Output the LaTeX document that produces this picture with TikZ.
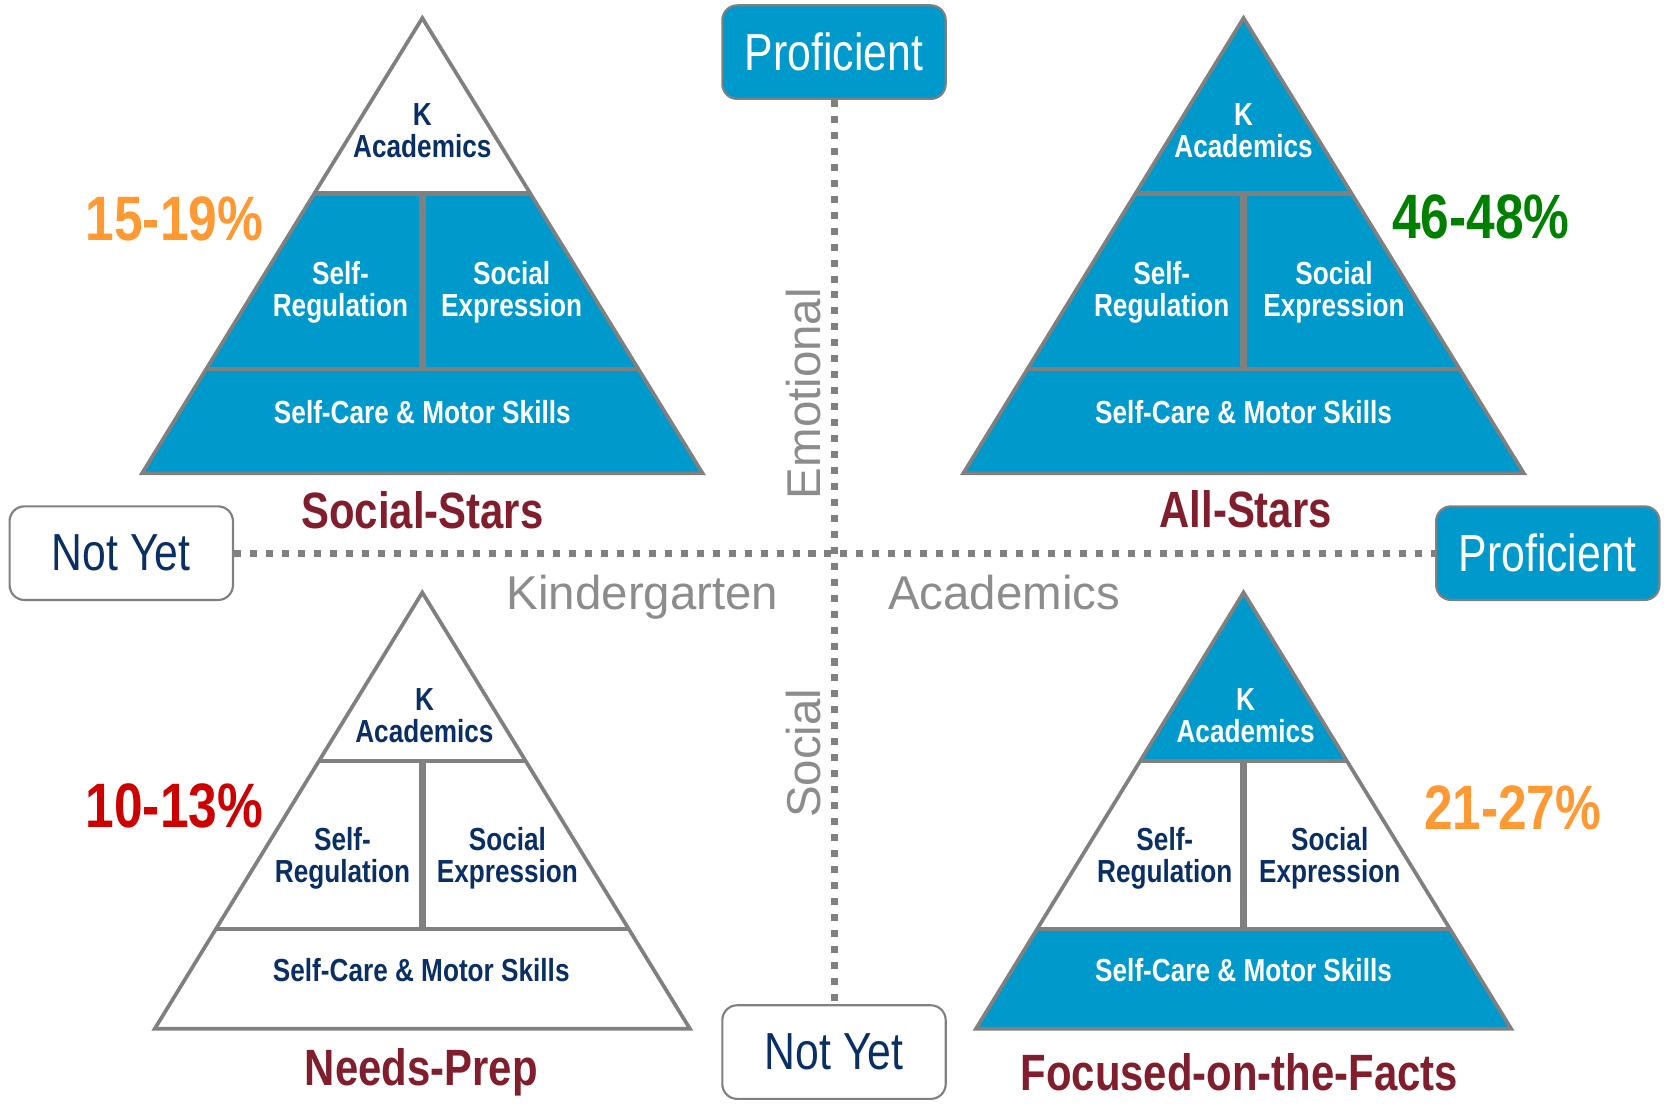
\documentclass[tikz,border=0pt]{standalone}
\usepackage{fontspec}
\setmainfont{Liberation Sans}
\newfontfamily\narrowfont[FakeStretch=0.82]{Liberation Sans}
\definecolor{kblue}{HTML}{0099CC}
\definecolor{navy}{HTML}{0A2F64}
\definecolor{darkred}{HTML}{801E2D}
\definecolor{korange}{HTML}{FF9933}
\definecolor{kgreen}{HTML}{008000}
\definecolor{kred}{HTML}{CC0000}
\definecolor{linegray}{HTML}{808080}
\definecolor{axgray}{HTML}{8C8C8C}
\newcommand\tierfont{\narrowfont\bfseries\fontsize{30}{30}\selectfont}
\newcommand\pctfont{\narrowfont\bfseries\fontsize{59}{59}\selectfont}
\newcommand\grpfont{\narrowfont\bfseries\fontsize{48}{48}\selectfont}
\newcommand\boxfont{\narrowfont\fontsize{49}{49}\selectfont}
\newcommand\axfont{\fontsize{44.6}{44.6}\selectfont}
% pyramid: #1 cx, #2 apex y, #3 base y, #4 half width, #5 top fill, #6 mid fill, #7 bottom fill
\newcommand\pyr[7]{%
  \pgfmathsetmacro\pyH{#3-#2}%
  \pgfmathsetmacro\pyYa{#2+0.3855*\pyH}%
  \pgfmathsetmacro\pyYb{#2+0.771*\pyH}%
  \pgfmathsetmacro\pyWa{0.3855*#4}%
  \pgfmathsetmacro\pyWb{0.771*#4}%
  \fill[#5] (#1,#2) -- (#1+\pyWa,\pyYa) -- (#1-\pyWa,\pyYa) -- cycle;
  \fill[#6] (#1-\pyWa,\pyYa) -- (#1+\pyWa,\pyYa) -- (#1+\pyWb,\pyYb) -- (#1-\pyWb,\pyYb) -- cycle;
  \fill[#7] (#1-\pyWb,\pyYb) -- (#1+\pyWb,\pyYb) -- (#1+#4,#3) -- (#1-#4,#3) -- cycle;
  \draw[tierline] (#1-\pyWa,\pyYa) -- (#1+\pyWa,\pyYa);
  \draw[tierline] (#1-\pyWb,\pyYb) -- (#1+\pyWb,\pyYb);
  \draw[divline] (#1,\pyYa) -- (#1,\pyYb);
  \draw[outline] (#1,#2) -- (#1+#4,#3) -- (#1-#4,#3) -- cycle;
}
\tikzset{
  outline/.style={draw=linegray, line width=3.5pt, line join=miter},
  tierline/.style={draw=linegray, line width=4pt},
  divline/.style={draw=linegray, line width=6pt},
  axisline/.style={draw=linegray, line width=6.6pt, dash pattern=on 6.6pt off 8.4pt},
  fb/.style={fill=kblue},
  fw/.style={fill=white},
  tierb/.style={font=\tierfont, text=white, align=center, inner sep=0pt},
  tierw/.style={font=\tierfont, text=navy, align=center, inner sep=0pt},
  pct/.style={font=\pctfont, anchor=base, inner sep=0pt},
  grouplabel/.style={font=\grpfont, text=darkred, anchor=base, inner sep=0pt},
  axlabel/.style={font=\axfont, text=axgray, anchor=base, inner sep=0pt},
  boxb/.style={draw=linegray, line width=2pt, rounded corners=14pt, fill=kblue, text=white,
    minimum width=210pt, minimum height=88pt, inner sep=0pt, font=\boxfont},
  boxw/.style={draw=linegray, line width=2pt, rounded corners=14pt, fill=white, text=navy,
    minimum width=210pt, minimum height=88pt, inner sep=0pt, font=\boxfont},
}
\begin{document}
\begin{tikzpicture}[x=1pt,y=-1pt]
\useasboundingbox (0,0) rectangle (1568,1040);
\fill[white] (0,0) rectangle (1568,1040);

% axis boxes
\node[boxb] (ptop) at (784,49) {Proficient};
\node[boxb] (pright) at (1455,520) {Proficient};
\node[boxw] (nleft) at (114,520) {Not Yet};
\node[boxw] (nbot) at (784,989) {Not Yet};

% axes
\draw[axisline] (ptop.south) -- (nbot.north);
\draw[axisline] (nleft.east) -- (pright.west);

% axis labels
\node[axlabel, rotate=90] (lemo) at (771,370) {Emotional};
\node[axlabel, rotate=90] (lsoc) at (771,708) {Social};
\node[axlabel] (lkin) at (604,573) {Kindergarten};
\node[axlabel] (laca) at (944,573) {Academics};

% top-left pyramid: Social-Stars
\pyr{397}{17}{445}{263.5}{fw}{fb}{fb}
\node[tierw, anchor=north] (tlA) at (397,97.5) {K\\Academics};
\node[tierb, anchor=north] (tlS) at (320,245.5) {Self-\\Regulation};
\node[tierb, anchor=north] (tlE) at (481,245.5) {Social\\Expression};
\node[tierb, anchor=base] (tlM) at (397,398) {Self-Care \& Motor Skills};
\node[pct, text=korange] (tlP) at (164,226) {15-19\%};
\node[grouplabel] (tlG) at (397,497) {Social-Stars};

% top-right pyramid: All-Stars
\pyr{1169}{17}{445}{263.5}{fb}{fb}{fb}
\node[tierb, anchor=north] (trA) at (1169,97.5) {K\\Academics};
\node[tierb, anchor=north] (trS) at (1092,245.5) {Self-\\Regulation};
\node[tierb, anchor=north] (trE) at (1254,245.5) {Social\\Expression};
\node[tierb, anchor=base] (trM) at (1169,398) {Self-Care \& Motor Skills};
\node[pct, text=kgreen] (trP) at (1392,224) {46-48\%};
\node[grouplabel] (trG) at (1171,496) {All-Stars};

% bottom-left pyramid: Needs-Prep
\pyr{397}{557}{967}{251.5}{fw}{fw}{fw}
\node[tierw, anchor=north] (blA) at (399,647.5) {K\\Academics};
\node[tierw, anchor=north] (blS) at (322,777.5) {Self-\\Regulation};
\node[tierw, anchor=north] (blE) at (477,777.5) {Social\\Expression};
\node[tierw, anchor=base] (blM) at (396,923) {Self-Care \& Motor Skills};
\node[pct, text=kred] (blP) at (164,778) {10-13\%};
\node[grouplabel] (blG) at (396,1020) {Needs-Prep};

% bottom-right pyramid: Focused-on-the-Facts
\pyr{1169}{557}{967}{251.5}{fb}{fw}{fb}
\node[tierb, anchor=north] (brA) at (1171,647.5) {K\\Academics};
\node[tierw, anchor=north] (brS) at (1095,777.5) {Self-\\Regulation};
\node[tierw, anchor=north] (brE) at (1250,777.5) {Social\\Expression};
\node[tierb, anchor=base] (brM) at (1169,923) {Self-Care \& Motor Skills};
\node[pct, text=korange] (brP) at (1422,780) {21-27\%};
\node[grouplabel] (brG) at (1165,1025) {Focused-on-the-Facts};
\end{tikzpicture}
\end{document}
